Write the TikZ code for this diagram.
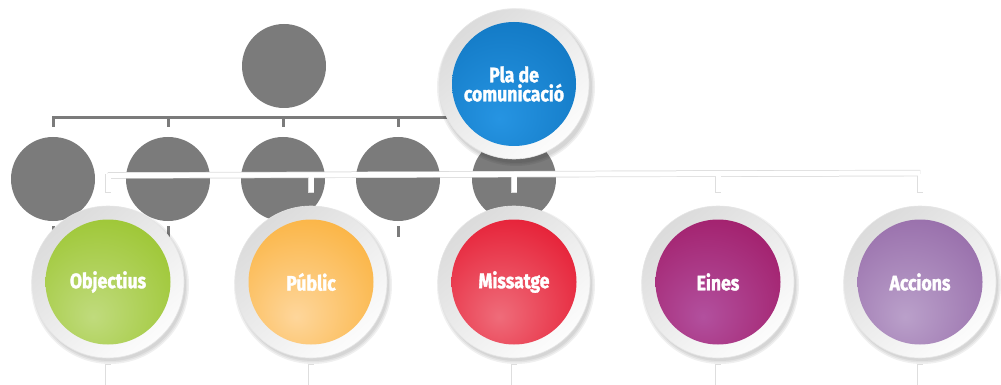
\documentclass[tikz,border=0pt]{standalone}
\usepackage{fontspec}
\newfontfamily\lbl[FakeStretch=0.84,FakeBold=1.5]{Fira Sans}
\definecolor{gcol}{HTML}{7B7B7B}
\definecolor{gE}{RGB}{143,190,22}\definecolor{gH}{RGB}{192,219,125}
\definecolor{oE}{RGB}{249,166,31}\definecolor{oH}{RGB}{254,214,155}
\definecolor{rE}{RGB}{226,0,26}\definecolor{rH}{RGB}{239,108,122}
\definecolor{mE}{RGB}{156,12,88}\definecolor{mH}{RGB}{178,80,158}
\definecolor{pE}{RGB}{138,90,158}\definecolor{pH}{RGB}{186,160,202}
\definecolor{bE}{RGB}{10,110,184}\definecolor{bH}{RGB}{38,148,226}
\newcommand{\mkshade}[3]{\pgfdeclareradialshading{#1}{\pgfpoint{-6bp}{-14bp}}{color(0bp)=(#2); color(52bp)=(#3); color(100bp)=(#3)}}
\mkshade{shobj}{gH}{gE}
\mkshade{shpub}{oH}{oE}
\mkshade{shmis}{rH}{rE}
\mkshade{shein}{mH}{mE}
\mkshade{shacc}{pH}{pE}
\mkshade{shpla}{bH}{bE}
\tikzset{
  graycirc/.style={circle, fill=gcol, minimum size=84pt, inner sep=0pt},
  graybar/.style={draw=gcol, line width=3pt},
  whitebar/.style={draw=white, line width=5pt},
  baredge/.style={draw=black!13, line width=6.4pt},
  barshadow/.style={draw=black, line width=6pt, opacity=0.1},
  ring/.style={circle, minimum size=152pt, inner sep=0pt, top color=black!14, bottom color=black!1, shading angle=40, draw=black!10, line width=0.6pt},
  core/.style={circle, minimum size=125pt, inner sep=0pt, text=white, font=\lbl\bfseries\fontsize{21}{19}\selectfont, align=center},
}
\begin{document}
\begin{tikzpicture}[x=1pt,y=-1pt]
\useasboundingbox (0,0) rectangle (1001,385);
\clip (0,0) rectangle (1001,385);
% gray org chart
\node[graycirc] (top) at (284,66) {};
\foreach \n/\x in {g1/53,g2/168,g3/283,g4/398,g5/514}{
  \node[graycirc] (\n) at (\x,179) {};
}
\coordinate (gl) at (52,118);
\coordinate (gr) at (514,118);
\draw[graybar] (gl) -- (gr);
\foreach \n in {g1,g2,g3,g4,g5}{
  \draw[graybar] (\n.north) ++(0,-20) -- ++(0,10);
  \draw[graybar] (\n.south) ++(0,5) -- ++(0,11);
}
% colored circles positions
\foreach \n/\x in {obj/108,pub/311,mis/514,ein/718,acc/920}{
  \coordinate (\n) at (\x,282);
}
% white bracket
\coordinate (wl) at (108,175.5);
\coordinate (wr) at (920,173);
\foreach \s in {2,3.5,5}{
\begin{scope}[shift={(1,\s)}]
  \draw[barshadow] (wl) -- (wr);
  \foreach \n in {obj,pub,mis,ein,acc}{
    \draw[barshadow] (\n) ++(0,-108) -- ++(0,18);
    \draw[barshadow] (\n) ++(0,83) -- ++(0,30);
  }
\end{scope}}
\draw[baredge] (wl) -- (wr);
\foreach \n in {obj,pub,mis,ein,acc}{
  \draw[baredge] (\n) ++(0,-108) -- ++(0,18.7);
  \draw[baredge] (\n) ++(0,82.3) -- ++(0,30);
}
\draw[whitebar] (wl) -- (wr);
\foreach \n in {obj,pub,mis,ein,acc}{
  \draw[whitebar] (\n) ++(0,-108) -- ++(0,18);
  \draw[whitebar] (\n) ++(0,83) -- ++(0,30);
}
% blue circle
\foreach \r in {76,77.5,79}{
  \fill[black, opacity=0.06] (516,87) circle[radius=\r pt];
}
\node[ring, minimum size=150pt] (pla) at (514,84) {};
\node[core, shading=shpla, minimum size=124pt] (pla-in) at (pla) {Pla de\\comunicació};
% colored circles
\foreach \n/\x/\sh/\tx in {obj/108/shobj/Objectius,pub/311/shpub/Públic,mis/514/shmis/Missatge,ein/718/shein/Eines,acc/920/shacc/Accions}{
  \foreach \r in {76,77.5,79}{
    \fill[black, opacity=0.06] (\x+2,285) circle[radius=\r pt];
  }
  \node[ring] (\n-ring) at (\n) {};
  \node[core, shading=\sh] (\n-in) at (\n) {\tx};
}
\end{tikzpicture}
\end{document}
